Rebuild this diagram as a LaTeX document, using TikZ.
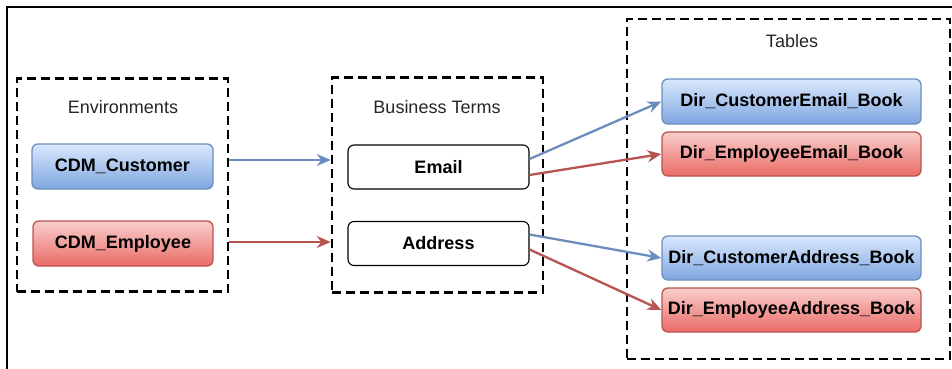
\documentclass[tikz,border=0pt]{standalone}
\usepackage{fontspec}
\setmainfont{Liberation Sans}
\usepackage{tikz}
\usetikzlibrary{arrows.meta}
\usepackage{xcolor}
\definecolor{bluefill}{HTML}{DAE8FC}
\definecolor{bluedark}{HTML}{7EA6E0}
\definecolor{blueline}{HTML}{6C8EBF}
\definecolor{redfill}{HTML}{F8CECC}
\definecolor{reddark}{HTML}{EA6B66}
\definecolor{redline}{HTML}{B85450}

\begin{document}
\begin{tikzpicture}[x=1pt,y=-1pt,
    group/.style={draw, line width=2.6pt, dash pattern=on 9pt off 5pt},
    grouplabel/.style={font=\fontsize{18}{20}\selectfont, text=black!85},
    bluebox/.style={draw=blueline, line width=1.3pt, rounded corners=6pt,
        top color=bluefill, bottom color=bluedark, font=\fontsize{18}{20}\selectfont\bfseries},
    redbox/.style={draw=redline, line width=1.3pt, rounded corners=6pt,
        top color=redfill, bottom color=reddark, font=\fontsize{18}{20}\selectfont\bfseries},
    termbox/.style={draw, line width=1.1pt, rounded corners=6pt, fill=white,
        minimum width=181pt, minimum height=44pt, font=\fontsize{18}{20}\selectfont\bfseries},
    bluearrow/.style={draw=blueline, line width=2.3pt, -{Stealth[length=14pt,width=12pt]}},
    redarrow/.style={draw=redline, line width=2.3pt, -{Stealth[length=14pt,width=12pt]}}]
    \useasboundingbox (0,0) rectangle (952,369);

    % Outer frame
    \draw[line width=1.4pt] (7,369) -- (7,7) -- (952,7);

    % Groups
    \node[group, minimum width=211pt, minimum height=213pt] (env) at (122.5,185) {};
    \node[group, minimum width=211pt, minimum height=215pt] (terms) at (437.5,185) {};
    \node[group, minimum width=323pt, minimum height=340pt] (tables) at (788.5,189) {};
    \node[grouplabel] (envlabel) at (123,107) {Environments};
    \node[grouplabel] (termslabel) at (437,107) {Business Terms};
    \node[grouplabel] (tableslabel) at (792,41) {Tables};

    % Environments
    \node[bluebox, minimum width=181pt, minimum height=45pt] (cust) at (122.5,166.5) {CDM\_Customer};
    \node[redbox, minimum width=180pt, minimum height=45pt] (emp) at (123,243.5) {CDM\_Employee};

    % Business terms
    \node[termbox] (email) at (438.5,167) {Email};
    \node[termbox] (addr) at (438.5,243.5) {Address};

    % Tables
    \node[bluebox, minimum width=259pt, minimum height=45pt] (custemail) at (791.5,101.5) {Dir\_CustomerEmail\_Book};
    \node[redbox, minimum width=259pt, minimum height=44pt] (empemail) at (791.5,154) {Dir\_EmployeeEmail\_Book};
    \node[bluebox, minimum width=259pt, minimum height=44pt] (custaddr) at (791.5,258) {Dir\_CustomerAddress\_Book};
    \node[redbox, minimum width=259pt, minimum height=44pt] (empaddr) at (791.5,310) {Dir\_EmployeeAddress\_Book};

    % Links between groups
    \draw[bluearrow] ([yshift=25pt]env.east) -- ([yshift=25pt]terms.west);
    \draw[redarrow] ([yshift=-57pt]env.east) -- ([yshift=-57pt]terms.west);

    % Terms to tables
    \draw[bluearrow] ([yshift=8pt]email.east) -- (custemail.west);
    \draw[redarrow] ([yshift=-8pt]email.east) -- (empemail.west);
    \draw[bluearrow] ([yshift=9pt]addr.east) -- (custaddr.west);
    \draw[redarrow] ([yshift=-6pt]addr.east) -- (empaddr.west);
\end{tikzpicture}
\end{document}
